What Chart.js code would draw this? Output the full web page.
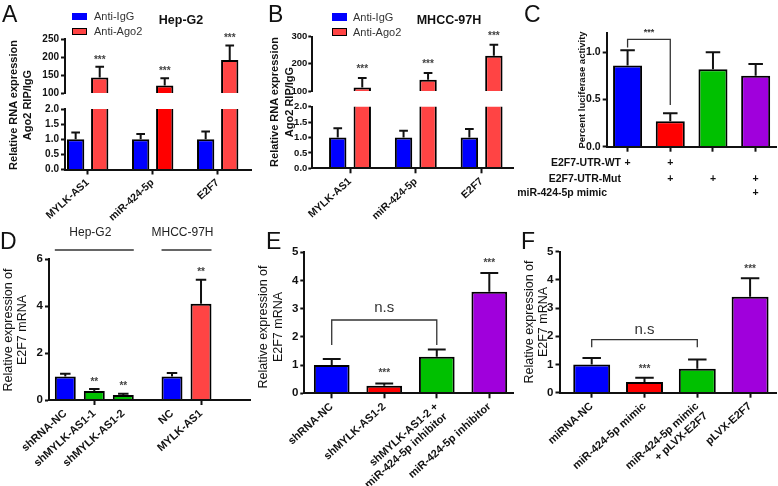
<!DOCTYPE html>
<html><head><meta charset="utf-8">
<script src="https://cdn.jsdelivr.net/npm/chart.js@4.4.1/dist/chart.umd.min.js"></script>
<style>
html,body{margin:0;padding:0;background:#fff;}
body{position:relative;width:778px;height:486px;overflow:hidden;font-family:"Liberation Sans",Arial,Helvetica,sans-serif;color:#111;}
canvas{position:absolute;}
.tx{position:absolute;white-space:nowrap;}
.v{position:absolute;white-space:nowrap;text-align:center;transform:rotate(-90deg);transform-origin:50% 50%;}
.sw{position:absolute;box-sizing:border-box;}
</style></head><body>
<script>
// ---------------- data ----------------
const catsAB = ['MYLK-AS1', 'miR-424-5p', 'E2F7'];
const seriesAB = ['Anti-IgG', 'Anti-Ago2'];
// A: Hep-G2 RIP
const aIgG = [1.0, 1.0, 1.0];
const aIgGErr = [1.22, 1.17, 1.26];
const aAgo2 = [143, 121, 192];
const aAgo2Err = [173, 141, 233];
const aStars = ['***', '***', '***'];
// B: MHCC-97H RIP
const bIgG = [1.0, 1.0, 1.0];
const bIgGErr = [1.30, 1.22, 1.28];
const bAgo2 = [113, 141, 230];
const bAgo2Err = [148, 166, 270];
const bStars = ['***', '***', '***'];
const abLowTicks = [0, 0.5, 1.0, 1.5, 2.0];
const aHighTicks = [100, 150, 200, 250];
const bHighTicks = [100, 150, 200, 250, 300];
// C: luciferase
const cRows = ['E2F7-UTR-WT', 'E2F7-UTR-Mut', 'miR-424-5p mimic'];
const cPlus = [[1, 1, 0, 0], [0, 1, 1, 1], [0, 0, 0, 1]];
const cVals = [0.86, 0.27, 0.82, 0.75];
const cErr = [1.02, 0.355, 1.00, 0.875];
const cTicks = [0, 0.5, 1.0];
const cSig = {from: 0, to: 1, level: 1.135, ends: [1.05, 0.44], text: '***'};
// D
const dGroups = ['Hep-G2', 'MHCC-97H'];
const dCats = ['shRNA-NC', 'shMYLK-AS1-1', 'shMYLK-AS1-2', 'NC', 'MYLK-AS1'];
const dGroupOf = [0, 0, 0, 1, 1];
const dVals = [1.0, 0.38, 0.21, 1.0, 4.1];
const dErr = [1.12, 0.47, 0.27, 1.15, 5.12];
const dStars = ['', '**', '**', '', '**'];
const dTicks = [0, 2, 4, 6];
// E
const eCats = ['shRNA-NC', 'shMYLK-AS1-2', ['shMYLK-AS1-2 +', 'miR-424-5p inhibitor'], 'miR-424-5p inhibitor'];
const eVals = [1.0, 0.27, 1.30, 3.60];
const eErr = [1.22, 0.35, 1.55, 4.27];
const eStars = ['', '***', '', '***'];
const eSig = {from: 0, to: 2, level: 2.6, ends: [1.71, 1.71], text: 'n.s'};
// F
const fCats = ['miRNA-NC', 'miR-424-5p mimic', ['miR-424-5p mimic', '+ pLVX-E2F7'], 'pLVX-E2F7'];
const fVals = [1.0, 0.38, 0.85, 3.40];
const fErr = [1.23, 0.53, 1.18, 4.06];
const fStars = ['', '***', '', '***'];
const fSig = {from: 0, to: 2, level: 1.88, ends: [1.61, 1.61], text: 'n.s'};
const efTicks = [0, 1, 2, 3, 4, 5];

// ---------------- styles ----------------
const FONT = '"Liberation Sans", Arial, Helvetica, sans-serif';
const INK = '#111';
const COL = {blue: '#0000FF', redL: '#FF4444', red: '#FF0000', green: '#00C000', purple: '#A000DC'};
const aAgo2Col = [COL.redL, COL.red, COL.redL];
const bAgo2Col = [COL.redL, COL.redL, COL.redL];
const cCol = [COL.blue, COL.red, COL.green, COL.purple];
const dCol = [COL.blue, COL.green, COL.green, COL.blue, COL.redL];
const efCol = [COL.blue, COL.red, COL.green, COL.purple];
Chart.defaults.font.family = FONT;

function extrasPlugin(o) {
  return {
    id: 'extras',
    afterDatasetsDraw(chart) {
      const ctx = chart.ctx, xs = chart.scales.x, ys = chart.scales.y;
      ctx.save();
      (o.errors || []).forEach(e => {
        const meta = chart.getDatasetMeta(e.ds);
        const vals = o.sets[e.ds].values;
        meta.data.forEach((bar, i) => {
          const v = vals[i], hi = e.err[i];
          if (!(v < ys.max && hi > ys.min)) return;
          const y0 = ys.getPixelForValue(Math.max(v, ys.min));
          const y1 = ys.getPixelForValue(hi);
          const cw = bar.width * 0.5;
          ctx.strokeStyle = INK; ctx.lineWidth = 2; ctx.lineCap = 'butt';
          ctx.beginPath();
          ctx.moveTo(bar.x, y0); ctx.lineTo(bar.x, y1);
          ctx.moveTo(bar.x - cw / 2, y1); ctx.lineTo(bar.x + cw / 2, y1);
          ctx.stroke();
          if (e.stars && e.stars[i]) {
            const fs = o.starSize || 10;
            ctx.font = 'bold ' + fs + 'px ' + FONT;
            ctx.fillStyle = '#444'; ctx.textAlign = 'center'; ctx.textBaseline = 'alphabetic';
            ctx.fillText(e.stars[i], bar.x, y1 - (o.starGap || 10) + 0.58 * fs);
          }
        });
      });
      if (o.sig) {
        const s = o.sig;
        const xa = xs.getPixelForValue(o.xPos[s.from]), xb = xs.getPixelForValue(o.xPos[s.to]);
        const yl = ys.getPixelForValue(s.level), ya = ys.getPixelForValue(s.ends[0]), yb = ys.getPixelForValue(s.ends[1]);
        ctx.strokeStyle = '#333'; ctx.lineWidth = 1.3;
        ctx.beginPath(); ctx.moveTo(xa, ya); ctx.lineTo(xa, yl); ctx.lineTo(xb, yl); ctx.lineTo(xb, yb); ctx.stroke();
        ctx.fillStyle = '#333'; ctx.font = o.sigFont; ctx.textAlign = 'center'; ctx.textBaseline = 'alphabetic';
        ctx.fillText(s.text, (xa + xb) / 2, yl - o.sigGap);
      }
      if (o.table) {
        const t = o.table;
        ctx.font = 'bold 10.5px ' + FONT; ctx.fillStyle = INK; ctx.textBaseline = 'middle';
        t.rows.forEach((r, ri) => {
          const y = t.rowY[ri];
          ctx.textAlign = 'right'; ctx.fillText(r, t.labelRight[ri], y);
          ctx.textAlign = 'center';
          t.marks[ri].forEach((m, ci) => { if (m) ctx.fillText('+', xs.getPixelForValue(o.xPos[ci]), y); });
        });
      }
      if (o.groups) {
        const g = o.groups;
        const meta = chart.getDatasetMeta(0);
        g.names.forEach((name, gi) => {
          const idx = g.of.map((v, i) => v === gi ? i : -1).filter(i => i >= 0);
          const b0 = meta.data[idx[0]], b1 = meta.data[idx[idx.length - 1]];
          const x0 = b0.x - b0.width / 2, x1 = b1.x + b1.width / 2;
          ctx.strokeStyle = '#333'; ctx.lineWidth = 1.3;
          ctx.beginPath(); ctx.moveTo(x0, g.lineY); ctx.lineTo(x1, g.lineY); ctx.stroke();
          ctx.fillStyle = '#222'; ctx.font = '12px ' + FONT; ctx.textAlign = 'center'; ctx.textBaseline = 'middle';
          ctx.fillText(name, (x0 + x1) / 2 - 4, g.textY);
        });
      }
      ctx.restore();
    }
  };
}

function buildChart(o) {
  const [bl, bt, bw, bh] = o.box;
  const [al, ar, at, ab] = o.area;
  const cv = document.createElement('canvas');
  cv.width = bw; cv.height = bh;
  cv.style.left = bl + 'px'; cv.style.top = bt + 'px';
  cv.style.width = bw + 'px'; cv.style.height = bh + 'px';
  document.body.appendChild(cv);
  const xH = bt + bh - ab;
  const datasets = o.sets.map(s => ({
    label: s.label,
    data: s.values.map((v, i) => ({x: o.xPos[i], y: v})),
    backgroundColor: s.colors,
    borderColor: '#000',
    borderWidth: 2,
    borderSkipped: 'start',
    categoryPercentage: o.catPct,
    barPercentage: o.barPct,
    clip: 0
  }));
  return new Chart(cv, {
    type: 'bar',
    data: {datasets},
    options: {
      responsive: false, animation: false, devicePixelRatio: 1,
      layout: {padding: {left: 0, top: at - bt, right: bl + bw - ar, bottom: o.xShow ? 0 : xH}},
      plugins: {legend: {display: false}, tooltip: {enabled: false}},
      scales: {
        x: {
          type: 'linear', display: o.xShow, min: o.xMin, max: o.xMax, offset: false,
          afterBuildTicks: s => { s.ticks = o.xPos.map(v => ({value: v})); },
          afterFit: s => { s.height = xH; },
          ticks: {
            display: o.xLabels !== null, autoSkip: false, minRotation: 42, maxRotation: 42, padding: 2,
            color: INK, font: {family: FONT, weight: 'bold', size: o.xFont || 11},
            callback: (v, i) => o.xLabels ? o.xLabels[i] : ''
          },
          grid: {
            offset: false, drawOnChartArea: false, tickLength: 5, tickWidth: 2,
            tickColor: c => (o.xMask && !o.xMask[c.index]) ? 'rgba(0,0,0,0)' : INK
          },
          border: {color: INK, width: 2, z: 1}
        },
        y: {
          type: 'linear', min: o.yMin, max: o.yMax,
          afterBuildTicks: s => { s.ticks = o.yTicks.map(v => ({value: v})); },
          afterFit: s => { s.width = al - bl; },
          ticks: {padding: o.yPad === undefined ? 2 : o.yPad, color: INK, font: {family: FONT, weight: 'bold', size: o.yFont || 11}, callback: v => o.yFmt(v)},
          grid: {drawOnChartArea: false, tickLength: 4, tickWidth: 2, tickColor: INK},
          border: {color: INK, width: 2, z: 1}
        }
      }
    },
    plugins: [extrasPlugin(o)]
  });
}

const fmt1 = v => v.toFixed(1);
const fmt0 = v => String(v);
const idx = arr => arr.map((c, i) => i);

// ---- A ----
const abPos = idx(catsAB);
const aSets = [
  {label: seriesAB[0], values: aIgG, colors: COL.blue},
  {label: seriesAB[1], values: aAgo2, colors: aAgo2Col}
];
const aErrs = [{ds: 0, err: aIgGErr}, {ds: 1, err: aAgo2Err, stars: aStars}];
buildChart({box: [0, 0, 260, 105], area: [65, 251.7, 39.3, 99], xShow: false, xLabels: null,
  xPos: abPos, xMin: -0.349, xMax: 2.523, catPct: 0.74, barPct: 0.72,
  yMin: 100, yMax: 250, yTicks: aHighTicks, yFmt: fmt0, yFont: 10, sets: aSets, errors: aErrs, starGap: 10});
buildChart({box: [0, 100, 260, 130], area: [65, 251.7, 109, 169.5], xShow: true, xLabels: catsAB, xFont: 10.5,
  xPos: abPos, xMin: -0.349, xMax: 2.523, catPct: 0.74, barPct: 0.72,
  yMin: 0, yMax: 2, yTicks: abLowTicks, yFmt: fmt1, yFont: 10, sets: aSets, errors: aErrs, starGap: 10});

// ---- B ----
const bSets = [
  {label: seriesAB[0], values: bIgG, colors: COL.blue},
  {label: seriesAB[1], values: bAgo2, colors: bAgo2Col}
];
const bErrs = [{ds: 0, err: bIgGErr}, {ds: 1, err: bAgo2Err, stars: bStars}];
buildChart({box: [258, 0, 257, 105], area: [312.3, 513, 36.7, 98], xShow: false, xLabels: null,
  xPos: abPos, xMin: -0.573, xMax: 2.477, catPct: 0.745, barPct: 0.71,
  yMin: 100, yMax: 300, yTicks: bHighTicks, yFmt: fmt0, yFont: 9.5, yPad: 1, sets: bSets, errors: bErrs, starGap: 12});
buildChart({box: [258, 97, 257, 133], area: [312.3, 513, 106.7, 168.3], xShow: true, xLabels: catsAB, xFont: 10.5,
  xPos: abPos, xMin: -0.573, xMax: 2.477, catPct: 0.745, barPct: 0.71,
  yMin: 0, yMax: 2, yTicks: abLowTicks, yFmt: fmt1, yFont: 9.5, yPad: 1, sets: bSets, errors: bErrs, starGap: 12});

// ---- C ----
const cPos = idx(cVals);
buildChart({box: [505, 0, 273, 240], area: [606.7, 776.5, 33.3, 146.7], xShow: true, xLabels: null,
  xPos: cPos, xMin: -0.489, xMax: 3.488, catPct: 0.8, barPct: 0.85,
  yMin: 0, yMax: 1.2, yTicks: cTicks, yFmt: fmt1, yFont: 10.5,
  sets: [{label: 'C', values: cVals, colors: cCol}], errors: [{ds: 0, err: cErr}],
  sig: cSig, sigFont: 'bold 9px ' + FONT, sigGap: 4.2,
  table: {rows: cRows, marks: cPlus, rowY: [163.3, 178.7, 192.7], labelRight: [116, 116, 102]}});

// ---- D ----
const D_GAP = 0.68;
const dPos = dCats.map((c, i) => i + (dGroupOf[i] > 0 ? D_GAP : 0));
buildChart({box: [0, 225, 258, 261], area: [49, 250, 259, 400], xShow: true, xLabels: dCats, xFont: 11,
  xMask: [0, 1, 0, 0, 1],
  xPos: dPos, xMin: -0.562, xMax: 6.369, catPct: 0.85, barPct: 0.85,
  yMin: 0, yMax: 6, yTicks: dTicks, yFmt: fmt0, yFont: 11.5,
  sets: [{label: 'D', values: dVals, colors: dCol}], errors: [{ds: 0, err: dErr, stars: dStars}], starGap: 10,
  groups: {names: dGroups, of: dGroupOf, textY: 8, lineY: 25}});

// ---- E ----
const ePos = idx(eVals);
buildChart({box: [258, 225, 257, 261], area: [304.3, 513, 252.3, 393.3], xShow: true, xLabels: eCats, xFont: 11,
  xPos: ePos, xMin: -0.522, xMax: 3.451, catPct: 0.8, barPct: 0.85,
  yMin: 0, yMax: 5, yTicks: efTicks, yFmt: fmt0, yFont: 11.5,
  sets: [{label: 'E', values: eVals, colors: efCol}], errors: [{ds: 0, err: eErr, stars: eStars}], starGap: 13,
  sig: eSig, sigFont: '15px ' + FONT, sigGap: 7.8});

// ---- F ----
const fPos = idx(fVals);
buildChart({box: [515, 225, 263, 261], area: [559.5, 776.7, 251.7, 392.7], xShow: true, xLabels: fCats, xFont: 11,
  xPos: fPos, xMin: -0.61, xMax: 3.504, catPct: 0.8, barPct: 0.875,
  yMin: 0, yMax: 5, yTicks: efTicks, yFmt: fmt0, yFont: 11.5,
  sets: [{label: 'F', values: fVals, colors: efCol}], errors: [{ds: 0, err: fErr, stars: fStars}], starGap: 12,
  sig: fSig, sigFont: '15px ' + FONT, sigGap: 5.8});

// ---------------- text overlays ----------------
function hText(txt, x, cy, font, color, align) {
  const d = document.createElement('div');
  d.className = 'tx'; d.textContent = txt;
  d.style.font = font; d.style.color = color || INK;
  d.style.lineHeight = '16px'; d.style.height = '16px';
  d.style.top = (cy - 8) + 'px';
  if (align === 'center') { d.style.left = (x - 100) + 'px'; d.style.width = '200px'; d.style.textAlign = 'center'; }
  else d.style.left = x + 'px';
  document.body.appendChild(d);
}
function vText(txt, cx, cy, font) {
  const d = document.createElement('div');
  d.className = 'v'; d.textContent = txt; d.style.font = font;
  d.style.width = '240px'; d.style.height = '16px'; d.style.lineHeight = '16px';
  d.style.left = (cx - 120) + 'px'; d.style.top = (cy - 8) + 'px';
  document.body.appendChild(d);
}
function swatch(x, y, w, h, col, border) {
  const d = document.createElement('div');
  d.className = 'sw';
  d.style.left = x + 'px'; d.style.top = y + 'px'; d.style.width = w + 'px'; d.style.height = h + 'px';
  d.style.background = col; if (border) d.style.border = '1px solid #000';
  document.body.appendChild(d);
}
const LET = '23px ' + FONT;
[['A', 2, 14], ['B', 268, 14], ['C', 524, 14], ['D', 0, 241], ['E', 266, 241], ['F', 521, 241]]
  .forEach(([t, x, cy]) => hText(t, x, cy, LET, '#111'));

// legends
swatch(72, 12.7, 15, 7.3, COL.blue, false);
swatch(72, 27.7, 15, 7.3, COL.redL, true);
hText(seriesAB[0], 94, 16.3, '11px ' + FONT, '#333');
hText(seriesAB[1], 94, 31.3, '11px ' + FONT, '#333');
swatch(331.7, 13.3, 15, 7.3, COL.blue, false);
swatch(331.7, 28.3, 15, 7.3, COL.redL, true);
hText(seriesAB[0], 353, 17, '11px ' + FONT, '#333');
hText(seriesAB[1], 353, 32, '11px ' + FONT, '#333');
// panel titles
hText('Hep-G2', 181, 20, 'bold 12.5px ' + FONT, '#111', 'center');
hText('MHCC-97H', 449, 20, 'bold 12.5px ' + FONT, '#111', 'center');
// y titles
const YB = 'bold 11px ' + FONT;
vText('Relative RNA expression', 13, 105, YB);
vText('Ago2 RIP/IgG', 27, 105, YB);
vText('Relative RNA expression', 274, 102, YB);
vText('Ago2 RIP/IgG', 288.5, 102, YB);
vText('Percent luciferase activity', 582, 90, 'bold 9.5px ' + FONT);
const YR = '12.5px ' + FONT;
vText('Relative expression of', 8, 330, YR);
vText('E2F7 mRNA', 22, 330, YR);
vText('Relative expression of', 263, 327, YR);
vText('E2F7 mRNA', 278, 327, YR);
vText('Relative expression of', 529, 322, YR);
vText('E2F7 mRNA', 543, 322, YR);
</script>
</body></html>
